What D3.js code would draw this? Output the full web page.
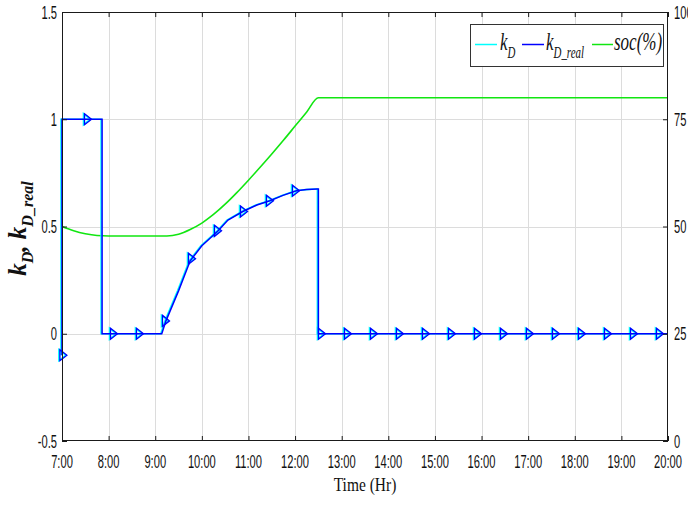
<!DOCTYPE html>
<html><head><meta charset="utf-8">
<script src="https://cdn.jsdelivr.net/npm/d3@7"></script>
<style>html,body{margin:0;padding:0;background:#fff;}svg{display:block;}</style>
</head><body>
<svg id="chart" width="688" height="506"></svg>
<script>
// ---------- data ----------
const xTicks = [7,8,9,10,11,12,13,14,15,16,17,18,19,20];
const xTickLabels = ["7:00","8:00","9:00","10:00","11:00","12:00","13:00","14:00","15:00","16:00","17:00","18:00","19:00","20:00"];
const yLeftTicks = [-0.5,0,0.5,1,1.5];
const yLeftTickLabels = ["-0.5","0","0.5","1","1.5"];
const yRightTicks = [0,25,50,75,100];
const yRightTickLabels = ["0","25","50","75","100"];

// k_D / k_D_real (hours, value)
const kTime  = [7,7,7.86,7.86,9.14,9.23,9.5,9.75,10.0,10.2,10.35,10.56,10.88,11.18,11.46,11.74,12.03,12.25,12.47,12.5,12.5,20];
const kValue = [-0.1,1,1,0,0,0.06,0.2,0.34,0.41,0.45,0.48,0.53,0.57,0.60,0.62,0.645,0.667,0.672,0.675,0.675,0,0];
// markers
const markerTime  = [7.03,7.558,8.116,8.673,9.231,9.789,10.347,10.905,11.462,12.020,12.578,13.136,13.694,14.251,14.809,15.367,15.925,16.483,17.040,17.598,18.156,18.714,19.272,19.829];
const markerValue = [-0.1,1,0,0,0.06,0.35,0.48,0.57,0.62,0.667,0,0,0,0,0,0,0,0,0,0,0,0,0,0];
// state of charge (%)
const socTime  = [7,7.25,7.5,7.75,8,8.5,9,9.25,9.5,9.75,10,10.25,10.5,10.75,11,11.25,11.5,11.75,12,12.25,12.5,20];
const socValue = [50,49,48.3,47.9,47.8,47.8,47.8,47.8,48.2,49.3,50.8,52.8,55.2,57.9,60.8,63.8,66.9,70.1,73.4,76.7,80,80];

// ---------- layout ----------
const L = 62, R = 668, T = 12, B = 441;
const svg = d3.select("#chart");
const x = d3.scaleLinear().domain([7,20]).range([L,R]);
const yL = d3.scaleLinear().domain([-0.5,1.5]).range([B,T]);
const yR = d3.scaleLinear().domain([0,100]).range([B,T]);

const axisColor = "#1a1a1a";
const tickFont = "Liberation Sans, Arial, sans-serif";
const serif = "Liberation Serif, Times New Roman, serif";
const narrow = 0.62;

// grid
const grid = svg.append("g").attr("stroke","#dcdcdc").attr("stroke-width",1);
grid.selectAll("line.v").data(xTicks.slice(1,-1)).join("line")
  .attr("x1",d=>Math.round(x(d))+0.5).attr("x2",d=>Math.round(x(d))+0.5).attr("y1",T).attr("y2",B);
grid.selectAll("line.h").data(yLeftTicks.slice(1,-1)).join("line")
  .attr("y1",d=>Math.round(yL(d))+0.5).attr("y2",d=>Math.round(yL(d))+0.5).attr("x1",L).attr("x2",R);

// clip
svg.append("clipPath").attr("id","clip").append("rect").attr("x",L-6).attr("y",T).attr("width",R-L+12).attr("height",B-T);
const plot = svg.append("g").attr("clip-path","url(#clip)");

const kData = kTime.map((t,i)=>[t,kValue[i]]);
const socData = socTime.map((t,i)=>[t,socValue[i]]);
const mData = markerTime.map((t,i)=>[t,markerValue[i]]);
const kLine = d3.line().x(d=>x(d[0])).y(d=>yL(d[1]));
const socLine = d3.line().x(d=>x(d[0])).y(d=>yR(d[1])).curve(d3.curveMonotoneX);
const tri = "M-3.5,-5.5L3.5,0L-3.5,5.5Z";

// soc
plot.append("path").datum(socData).attr("d",socLine).attr("fill","none").attr("stroke","#11e611").attr("stroke-width",1.6);
// k_D (cyan, beneath)
const kd = plot.append("g").attr("transform","translate(-1,0)");
kd.append("path").datum(kData).attr("d",kLine).attr("fill","none").attr("stroke","#00ffff").attr("stroke-width",1.6);
kd.selectAll("path.m").data(mData).join("path").attr("class","m")
  .attr("d",tri).attr("transform",d=>`translate(${x(d[0])},${yL(d[1])})`)
  .attr("fill","none").attr("stroke","#00ffff").attr("stroke-width",1.6);
// k_D_real (blue)
const kr = plot.append("g");
kr.append("path").datum(kData).attr("d",kLine).attr("fill","none").attr("stroke","#0000ff").attr("stroke-width",1.5);
kr.selectAll("path.m").data(mData).join("path").attr("class","m")
  .attr("d",tri).attr("transform",d=>`translate(${x(d[0])},${yL(d[1])})`)
  .attr("fill","none").attr("stroke","#0000ff").attr("stroke-width",1.3);

// axes (inward ticks)
function styleAxis(g){ g.select(".domain").remove(); g.selectAll("line").attr("stroke",axisColor); g.selectAll("text").remove(); }
svg.append("g").attr("transform",`translate(0,${B})`).call(d3.axisBottom(x).tickValues(xTicks).tickSize(-5)).call(styleAxis);
svg.append("g").attr("transform",`translate(0,${T})`).call(d3.axisTop(x).tickValues(xTicks).tickSize(-5)).call(styleAxis);
svg.append("g").attr("transform",`translate(${L},0)`).call(d3.axisLeft(yL).tickValues(yLeftTicks).tickSize(-5)).call(styleAxis);
svg.append("g").attr("transform",`translate(${R},0)`).call(d3.axisRight(yR).tickValues(yRightTicks).tickSize(-5)).call(styleAxis);
svg.append("rect").attr("x",L+0.5).attr("y",T+0.5).attr("width",R-L-1).attr("height",B-T-1)
  .attr("fill","none").attr("stroke",axisColor).attr("stroke-width",1);

// tick labels
const lab = svg.append("g").attr("font-family",tickFont).attr("font-size",18).attr("fill","#111");
lab.selectAll("text.x").data(xTicks).join("text")
  .attr("transform",d=>`translate(${x(d)},${B+27}) scale(${narrow},1)`).attr("text-anchor","middle")
  .text((d,i)=>xTickLabels[i]);
lab.selectAll("text.yl").data(yLeftTicks).join("text")
  .attr("transform",d=>`translate(${L-5},${yL(d)+6.5}) scale(${narrow},1)`).attr("text-anchor","end")
  .text((d,i)=>yLeftTickLabels[i]);
lab.selectAll("text.yr").data(yRightTicks).join("text")
  .attr("transform",d=>`translate(${R+6},${yR(d)+6.5}) scale(${narrow},1)`).attr("text-anchor","start")
  .text((d,i)=>yRightTickLabels[i]);

// x label
svg.append("text").attr("transform",`translate(${(L+R)/2},491) scale(0.86,1)`).attr("text-anchor","middle")
  .attr("font-family",serif).attr("font-size",18).attr("fill","#111").text("Time (Hr)");

// y label
const yl = svg.append("text").attr("transform",`translate(26,${(T+B)/2+2}) rotate(-90)`).attr("text-anchor","middle")
  .attr("font-family",serif).attr("font-size",25).attr("font-weight","bold").attr("font-style","italic").attr("fill","#111");
yl.append("tspan").text("k");
yl.append("tspan").attr("font-size",16).attr("dy",7).text("D");
yl.append("tspan").attr("dy",-7).text(", k");
yl.append("tspan").attr("font-size",16).attr("dy",7).text("D_real");

// legend
const lg = svg.append("g");
lg.append("rect").attr("x",470.5).attr("y",24.5).attr("width",193).attr("height",42).attr("fill","#fff").attr("stroke","#333").attr("stroke-width",1);
const items = [
  {c:"#00ffff", x0:475, x1:497, tx:500, main:"k", sub:"D"},
  {c:"#0000ff", x0:522, x1:544, tx:546, main:"k", sub:"D_real"},
  {c:"#11e611", x0:592, x1:613, tx:614, main:"soc(%)", sub:null}
];
items.forEach(it=>{
  lg.append("line").attr("x1",it.x0).attr("x2",it.x1).attr("y1",44.5).attr("y2",44.5).attr("stroke",it.c).attr("stroke-width",1.5);
  const t = lg.append("text").attr("transform",`translate(${it.tx},50) scale(0.68,1)`)
    .attr("font-family",serif).attr("font-style","italic").attr("font-size",25).attr("fill","#111");
  t.append("tspan").text(it.main);
  if(it.sub) t.append("tspan").attr("font-size",16).attr("dy",8).text(it.sub);
});
</script>
</body></html>
